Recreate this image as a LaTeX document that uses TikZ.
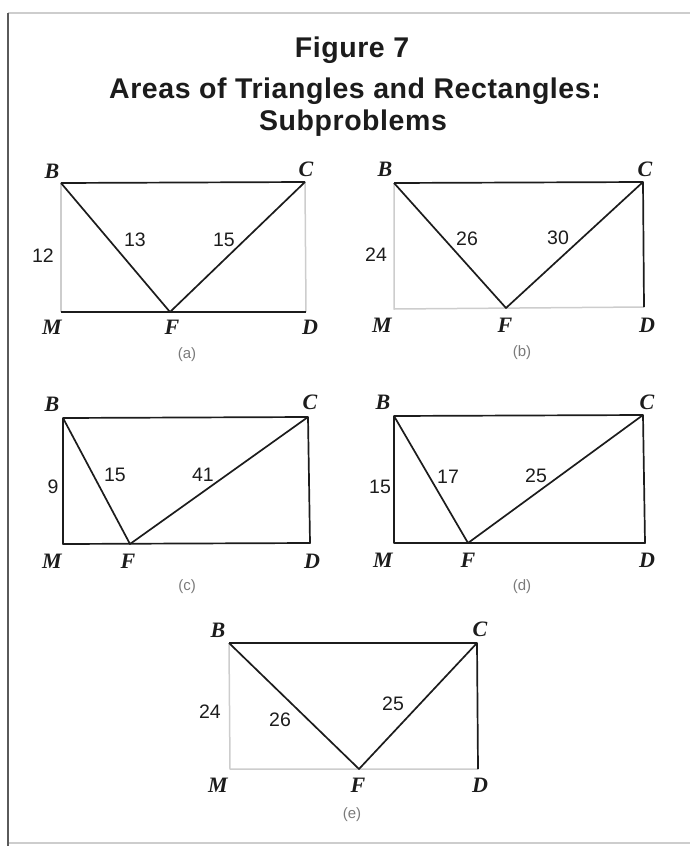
\documentclass[tikz,border=0pt]{standalone}
\usepackage{fontspec}
\setmainfont{Liberation Sans}
\newfontfamily\headfont[LetterSpace=2]{Liberation Sans}
\newfontfamily\vertexfont{Liberation Serif}

\definecolor{figink}{HTML}{1C1C1C}
\definecolor{figfaint}{HTML}{CDCDCD}
\definecolor{figframe}{HTML}{5A5A5A}
\definecolor{figcap}{HTML}{7A7A7A}

\begin{document}
\begin{tikzpicture}[
  x=1pt,
  y=-1pt,
  line join=round,
  edge/.style={draw=figink,line width=1.7pt},
  faintedge/.style={draw=figfaint,line width=1.5pt},
  vertex/.style={font=\vertexfont\bfseries\itshape\fontsize{22}{22}\selectfont,text=figink,inner sep=0pt},
  sidelen/.style={font=\fontsize{19.5}{19.5}\selectfont,text=figink,inner sep=0pt},
  subcap/.style={font=\fontsize{15}{15}\selectfont,text=figcap,inner sep=0pt},
  heading/.style={font=\headfont\bfseries\fontsize{28.5}{28.5}\selectfont,text=figink,inner sep=0pt,anchor=base}
]
  % Page frame of the scanned figure.
  \useasboundingbox (0,0) rectangle (690,846);
  \coordinate (frameTL) at (8,13);
  \coordinate (frameTR) at (690,13);
  \coordinate (frameBL) at (8,846);
  \coordinate (frameBB) at (8,843);
  \coordinate (frameBR) at (690,843);
  \draw[draw=figfaint,line width=1.2pt] (frameTL) -- (frameTR);
  \draw[draw=figfaint,line width=1.2pt] (frameBB) -- (frameBR);
  \draw[draw=figframe,line width=1.8pt] (frameTL) -- (frameBL);

  % Heading.
  \node[heading] (figNum) at (352,57) {Figure 7};
  \node[heading] (figTitle) at (355,98) {Areas of Triangles and Rectangles:};
  \node[heading] (figSub) at (353,130) {Subproblems};

  % (a): rectangle 12 high, legs 13 and 15.
  \coordinate (aB) at (61,183);
  \coordinate (aC) at (305,182);
  \coordinate (aM) at (61,312);
  \coordinate (aF) at (170,312);
  \coordinate (aD) at (306,312);
  \draw[faintedge] (aB) -- (aM);
  \draw[faintedge] (aC) -- (aD);
  \draw[edge] (aB) -- (aC);
  \draw[edge] (aM) -- (aD);
  \draw[edge] (aB) -- (aF) -- (aC);
  \node[vertex] (aBlab) at (52,171) {B};
  \node[vertex] (aClab) at (306,169) {C};
  \node[vertex] (aMlab) at (52,327) {M};
  \node[vertex] (aFlab) at (172,327) {F};
  \node[vertex] (aDlab) at (310,327) {D};
  \node[sidelen] (aBM) at (43,256) {12};
  \node[sidelen] (aBF) at (135,240) {13};
  \node[sidelen] (aCF) at (224,240) {15};
  \node[subcap] (aCap) at (187,355) {(a)};

  % (b): rectangle 24 high, legs 26 and 30.
  \coordinate (bB) at (394,183);
  \coordinate (bC) at (643,182);
  \coordinate (bM) at (394,309);
  \coordinate (bF) at (506,308);
  \coordinate (bD) at (644,307);
  \draw[faintedge] (bB) -- (bM) -- (bD);
  \draw[edge] (bB) -- (bC) -- (bD);
  \draw[edge] (bB) -- (bF) -- (bC);
  \node[vertex] (bBlab) at (385,169) {B};
  \node[vertex] (bClab) at (645,169) {C};
  \node[vertex] (bMlab) at (382,325) {M};
  \node[vertex] (bFlab) at (505,325) {F};
  \node[vertex] (bDlab) at (647,325) {D};
  \node[sidelen] (bBM) at (376,255) {24};
  \node[sidelen] (bBF) at (467,239) {26};
  \node[sidelen] (bCF) at (558,238) {30};
  \node[subcap] (bCap) at (522,353) {(b)};

  % (c): rectangle 9 high, legs 15 and 41.
  \coordinate (cB) at (63,418);
  \coordinate (cC) at (308,417);
  \coordinate (cM) at (63,544);
  \coordinate (cF) at (130,544);
  \coordinate (cD) at (310,543);
  \draw[edge] (cB) -- (cC) -- (cD) -- (cM) -- cycle;
  \draw[edge] (cB) -- (cF) -- (cC);
  \node[vertex] (cBlab) at (52,404) {B};
  \node[vertex] (cClab) at (310,402) {C};
  \node[vertex] (cMlab) at (52,561) {M};
  \node[vertex] (cFlab) at (128,561) {F};
  \node[vertex] (cDlab) at (312,561) {D};
  \node[sidelen] (cBM) at (53,487) {9};
  \node[sidelen] (cBF) at (115,475) {15};
  \node[sidelen] (cCF) at (203,475) {41};
  \node[subcap] (cCap) at (187,587) {(c)};

  % (d): rectangle 15 high, legs 17 and 25.
  \coordinate (dB) at (394,416);
  \coordinate (dC) at (643,415);
  \coordinate (dM) at (394,543);
  \coordinate (dF) at (468,543);
  \coordinate (dD) at (645,543);
  \draw[edge] (dB) -- (dC) -- (dD) -- (dM) -- cycle;
  \draw[edge] (dB) -- (dF) -- (dC);
  \node[vertex] (dBlab) at (383,402) {B};
  \node[vertex] (dClab) at (647,402) {C};
  \node[vertex] (dMlab) at (383,560) {M};
  \node[vertex] (dFlab) at (468,560) {F};
  \node[vertex] (dDlab) at (647,560) {D};
  \node[sidelen] (dBM) at (380,487) {15};
  \node[sidelen] (dBF) at (448,477) {17};
  \node[sidelen] (dCF) at (536,476) {25};
  \node[subcap] (dCap) at (522,587) {(d)};

  % (e): rectangle 24 high, legs 26 and 25.
  \coordinate (eB) at (229,643);
  \coordinate (eC) at (477,643);
  \coordinate (eM) at (230,769);
  \coordinate (eF) at (359,769);
  \coordinate (eD) at (478,769);
  \draw[faintedge] (eB) -- (eM) -- (eD);
  \draw[edge] (eB) -- (eC) -- (eD);
  \draw[edge] (eB) -- (eF) -- (eC);
  \node[vertex] (eBlab) at (218,630) {B};
  \node[vertex] (eClab) at (480,629) {C};
  \node[vertex] (eMlab) at (218,785) {M};
  \node[vertex] (eFlab) at (358,785) {F};
  \node[vertex] (eDlab) at (480,785) {D};
  \node[sidelen] (eBM) at (210,712) {24};
  \node[sidelen] (eBF) at (280,720) {26};
  \node[sidelen] (eCF) at (393,704) {25};
  \node[subcap] (eCap) at (352,815) {(e)};
\end{tikzpicture}
\end{document}
